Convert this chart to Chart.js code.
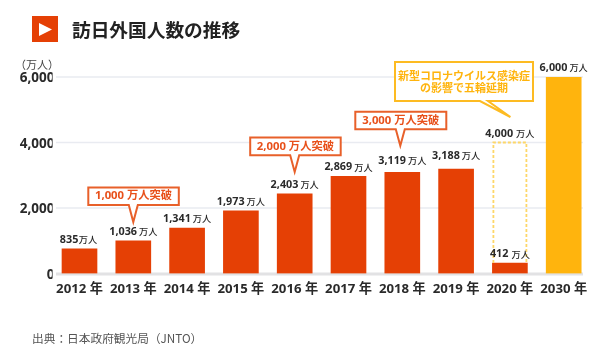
<!DOCTYPE html>
<html lang="ja">
<head>
<meta charset="utf-8">
<style>html,body{margin:0;padding:0;background:#fff}canvas{display:block}</style>
<script src="https://cdn.jsdelivr.net/npm/chart.js@4"></script>
</head>
<body>
<div style="width:600px;height:361px"><canvas id="c" width="600" height="361"></canvas></div>
<script>
const categories = ['2012','2013','2014','2015','2016','2017','2018','2019','2020','2030'];
// Bar heights as drawn in the picture; printed labels below are what the chart states.
const actualBars = [750,995,1390,1910,2430,2970,3090,3190,320,null];
const targetBars = [null,null,null,null,null,null,null,null,null,6000];
const plannedBars = [null,null,null,null,null,null,null,null,4000,null];
const printedNumbers = ['835','1,036','1,341','1,973','2,403','2,869','3,119','3,188','412','6,000'];
const plannedNumber = '4,000';
const yTicks = [0,2000,4000,6000];
const title = '訪日外国人数の推移';
const unitLabel = '（万人）';
const sourceNote = '出典：日本政府観光局（JNTO）';
const milestoneTexts = ['1,000 万人突破','2,000 万人突破','3,000 万人突破'];
const covidNote = ['新型コロナウイルス感染症','の影響で五輪延期'];

const ORANGE='#e54005', YELLOW='#ffb40d', LINE_O='#e8602a', LINE_Y='#fdbb22', INK='#2a2a2a';
const LATIN='"Noto Sans","Noto Sans CJK JP",sans-serif', CJK='"Noto Sans CJK JP",sans-serif';

function valueLabel(ctx,cx,cy,num,gap){
  ctx.textBaseline='middle';ctx.textAlign='left';
  const nf='bold 10.8px '+LATIN, uf='500 9.2px '+CJK, unit='万人';
  ctx.font=nf;const nw=ctx.measureText(num).width;
  ctx.font=uf;const uw=ctx.measureText(unit).width;
  let x=cx-(nw+gap+uw)/2;
  ctx.fillStyle=INK;ctx.font=nf;ctx.fillText(num,x,cy);
  ctx.font=uf;ctx.fillText(unit,x+nw+gap,cy);
}
function callout(ctx,box,base,tip,color,lw){
  ctx.beginPath();
  ctx.moveTo(box.l,box.t);ctx.lineTo(box.r,box.t);ctx.lineTo(box.r,box.b);
  ctx.lineTo(base[1],box.b);ctx.lineTo(tip.x,tip.y);ctx.lineTo(base[0],box.b);
  ctx.lineTo(box.l,box.b);ctx.closePath();
  ctx.fillStyle='#fff';ctx.fill();
  ctx.strokeStyle=color;ctx.lineWidth=lw;ctx.lineJoin='miter';ctx.stroke();
}

const decor={
  id:'decor',
  beforeDatasetsDraw(chart){
    const {ctx,scales:{y}}=chart;
    ctx.save();
    yTicks.forEach(v=>{
      const py=y.getPixelForValue(v);
      ctx.fillStyle=v===0?'#e2e2e4':'#e9ebf1';
      const h=v===0?3:1.5;
      ctx.fillRect(56,py-h/2+(v===0?0.5:0),527,h);
    });
    ctx.restore();
  },
  afterDatasetsDraw(chart){
    const {ctx,scales:{x,y}}=chart;
    ctx.save();
    // header
    ctx.fillStyle='#e54005';ctx.fillRect(32,16,26,26);
    ctx.fillStyle='#fff';ctx.beginPath();ctx.moveTo(39,23);ctx.lineTo(52,29.5);ctx.lineTo(39,36);ctx.closePath();ctx.fill();
    ctx.fillStyle='#222';ctx.font='bold 18.7px '+CJK;ctx.textAlign='left';ctx.textBaseline='middle';
    ctx.fillText(title,72,30);
    ctx.fillStyle='#444';ctx.font='11px '+CJK;ctx.textAlign='right';
    ctx.fillText(unitLabel,59,65);
    ctx.fillStyle='#555';ctx.font='11.7px '+CJK;ctx.textAlign='left';
    ctx.fillText(sourceNote,32,339);

    // dashed planned bar
    const pi=plannedBars.findIndex(v=>v!==null);
    const el=chart.getDatasetMeta(2).data[pi];
    const actualTop=chart.getDatasetMeta(0).data[pi].y;
    ctx.strokeStyle='#fdd768';ctx.lineWidth=1.8;ctx.setLineDash([3,2]);
    ctx.beginPath();
    const L=el.x-el.width/2+1,R=el.x+el.width/2-1;
    ctx.moveTo(L,actualTop);ctx.lineTo(L,el.y);ctx.lineTo(R,el.y);ctx.lineTo(R,actualTop);ctx.stroke();
    ctx.setLineDash([]);

    // value labels
    const gaps={0:0.5,8:3};
    const rise={6:12,7:14};
    printedNumbers.forEach((n,i)=>{
      const px=x.getPixelForValue(i);
      const v=actualBars[i]!==null?actualBars[i]:targetBars[i];
      valueLabel(ctx,px-(i===0?1:0),y.getPixelForValue(v)-(rise[i]||9.5)+0.5,n,gaps[i]!==undefined?gaps[i]:2);
    });
    valueLabel(ctx,x.getPixelForValue(pi),y.getPixelForValue(plannedBars[pi])-9,plannedNumber,3);

    // milestone callouts: box size follows the anchored category
    [[1,1572,187.5,205,-45],[4,3100,137.5,155.3,-44.5],[6,3900,111.7,129.3,-47]].forEach((m,k)=>{
      const cx=x.getPixelForValue(m[0]);
      const tip={x:cx+(k===2?-2:0),y:y.getPixelForValue(m[1])};
      const l=cx+m[4],r=l+(k===2?91:90.5);
      callout(ctx,{l,r,t:m[2],b:m[3]},[tip.x-4.5,tip.x+4.5],tip,LINE_O,2);
      ctx.fillStyle='#e8501a';ctx.font='bold 11.3px '+LATIN;ctx.textAlign='center';ctx.textBaseline='middle';
      ctx.fillText(milestoneTexts[k],(l+r)/2,(m[2]+m[3])/2);
    });
    // covid note
    const tipC={x:x.getPixelForValue(pi)+0.5,y:117};
    callout(ctx,{l:395,r:533,t:62,b:101},[480,488],tipC,LINE_Y,2);
    ctx.fillStyle=YELLOW;ctx.font='bold 11px '+CJK;ctx.textAlign='center';ctx.textBaseline='middle';
    ctx.fillText(covidNote[0],464,75.5);ctx.fillText(covidNote[1],464,88);
    ctx.restore();
  }
};

new Chart(document.getElementById('c'),{
  type:'bar',
  data:{labels:categories,datasets:[
    {data:actualBars,backgroundColor:ORANGE,borderWidth:0,grouped:false,barThickness:35},
    {data:targetBars,backgroundColor:YELLOW,borderWidth:0,grouped:false,barThickness:35},
    {data:plannedBars,backgroundColor:'rgba(0,0,0,0)',borderWidth:0,grouped:false,barThickness:35}
  ]},
  plugins:[decor],
  options:{
    responsive:false,animation:false,devicePixelRatio:1,
    layout:{padding:{left:0,right:9.4,top:77,bottom:0}},
    plugins:{legend:{display:false},tooltip:{enabled:false},title:{display:false}},
    scales:{
      x:{
        grid:{display:false,tickLength:0},border:{display:false},
        afterFit(s){s.height=87.5;},
        ticks:{maxRotation:0,autoSkip:false,padding:7.5,color:INK,font:{family:LATIN,size:13.2,weight:'bold'},
          callback(v,i){return categories[i]+' 年';}}
      },
      y:{
        min:0,max:6000,
        grid:{display:false,tickLength:0},border:{display:false},
        afterFit(s){s.width=52.6;},
        afterBuildTicks(s){s.ticks=yTicks.map(v=>({value:v}));},
        ticks:{padding:-1.8,labelOffset:1.5,color:INK,font:{family:LATIN,size:13.5,weight:'bold'},
          callback(v){return v.toLocaleString('en-US');}}
      }
    }
  }
});
</script>
</body>
</html>
